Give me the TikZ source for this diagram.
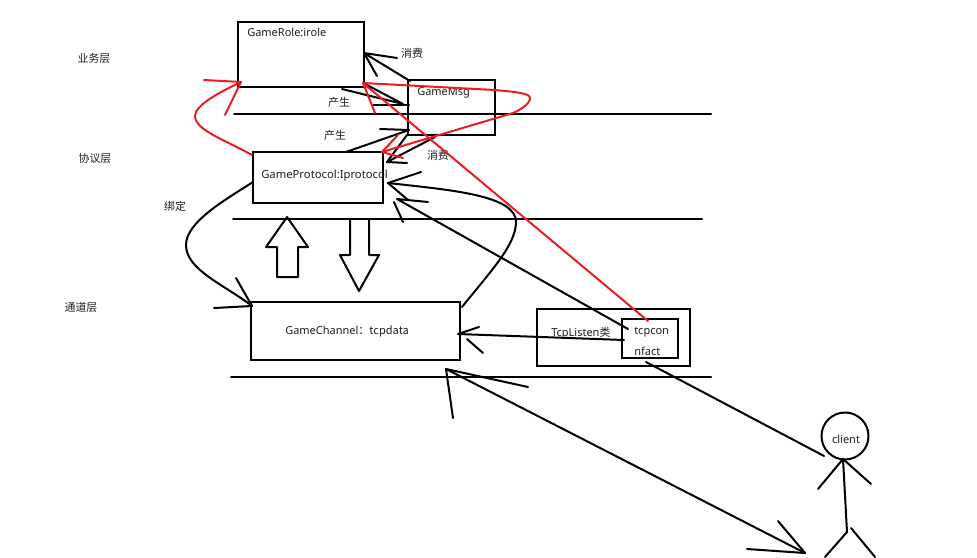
\documentclass[tikz,border=0pt]{standalone}
\usepackage{fontspec}
\setmainfont{Noto Sans}
\newfontfamily\cjk{Noto Sans CJK SC}
\definecolor{paintred}{RGB}{237,28,36}
\definecolor{ink}{RGB}{30,30,30}
\tikzset{
  box/.style={draw=black,line width=1.5pt,inner sep=0pt,minimum width=#1},
  lbl/.style={inner sep=0pt,text=ink,font=\fontsize{8.25}{9}\selectfont},
  cn/.style={inner sep=0pt,text=ink,font=\cjk\fontsize{8.2}{9}\selectfont},
  ink line/.style={draw=black,line width=1.5pt,line cap=round,line join=round},
  red line/.style={draw=paintred,line width=1.5pt,line cap=round,line join=round}
}
\begin{document}
\begin{tikzpicture}[x=0.75pt,y=-0.75pt]
\useasboundingbox (0,0) rectangle (977,557);
% layer lines
\coordinate (l1a) at (234,114); \coordinate (l1b) at (711,114);
\coordinate (l2a) at (233,219); \coordinate (l2b) at (702,219);
\coordinate (l3a) at (231,377); \coordinate (l3b) at (711,377);
\draw[ink line] (l1a) -- (l1b);
\draw[ink line] (l2a) -- (l2b);
\draw[ink line] (l3a) -- (l3b);
% boxes
\node[box=126*0.75pt,minimum height=48.75pt] (role) at (301,54.5) {};
\node[box=87*0.75pt,minimum height=41.25pt] (msg) at (451.5,107.5) {};
\node[box=130*0.75pt,minimum height=38.25pt] (proto) at (318,177.5) {};
\node[box=209*0.75pt,minimum height=43.5pt] (chan) at (355.5,331) {};
\node[box=153*0.75pt,minimum height=42.75pt] (listen) at (613.5,337.5) {};
\node[box=56*0.75pt,minimum height=29.25pt] (conn) at (650,338.5) {};
\node[draw=black,line width=1.5pt,circle,minimum size=35.25pt,inner sep=0pt] (client) at (845,436) {};
% labels
\node[lbl,anchor=west] (troleL) at (247,32) {GameRole:irole};
\node[lbl,anchor=west] (tmsgL) at (417,93) {GameMsg};
\node[lbl,anchor=west,font=\fontsize{8.45}{9}\selectfont] (tprotoL) at (261,176) {GameProtocol:Iprotocol};
\node[lbl,anchor=west] (tchanL) at (285,331) {GameChannel\cjk{：}tcpdata};
\node[lbl,anchor=west] (tlistenL) at (551,333) {TcpListen\cjk{类}};
\node[lbl,anchor=west] (tconnA) at (634,332) {tcpcon};
\node[lbl,anchor=west] (tconnB) at (634,351) {nfact};
\node[lbl] (tclient) at (846,439) {client};
\node[cn] (tbiz) at (94,58) {业务层};
\node[cn] (tprot) at (95,158) {协议层};
\node[cn] (tbind) at (175,206) {绑定};
\node[cn] (tchn) at (81,307) {通道层};
\node[cn] (tc1) at (412,53) {消费};
\node[cn] (tp1) at (339,102) {产生};
\node[cn] (tp2) at (335,135) {产生};
\node[cn] (tc2) at (438,155) {消费};
% block arrows
\draw[ink line] (277,277) -- (277,247) -- (266,247) -- (287,217) -- (308,247) -- (298,247) -- (298,277) -- cycle;
\draw[ink line] (350,219) -- (350,255) -- (340,255) -- (359,291) -- (379,255) -- (369,255) -- (369,219);
% msg -> role
\coordinate (m1s) at (410,81); \coordinate (m1t) at (364,53);
\draw[ink line] (m1s) -- (m1t) -- (397,58);
\draw[ink line] (m1t) -- (377,76);
% role -> msg
\coordinate (r1s) at (342,89); \coordinate (r1t) at (403,104);
\draw[ink line] (r1s) -- (r1t) -- (365,84);
\draw[ink line] (373,105) -- (409,105);
% protocol -> msg
\coordinate (p1s) at (346,152); \coordinate (p1t) at (409,130);
\draw[ink line] (p1s) -- (p1t) -- (380,129);
% msg -> protocol
\coordinate (m2s) at (435,137); \coordinate (m2t) at (387,162);
\draw[ink line] (m2s) -- (m2t) -- (407,163);
\draw[ink line] (m2t) -- (407,135);
% protocol -> channel (bind)
\coordinate (p2s) at (253,182); \coordinate (c1t) at (252,306);
\draw[ink line] (p2s) .. controls (225,200) and (186,222) .. (186,245)
  .. controls (186,270) and (225,285) .. (c1t);
\draw[ink line] (c1t) -- (236,278);
\draw[ink line] (c1t) -- (214,308);
% channel -> protocol
\coordinate (c2s) at (462,307); \coordinate (p3t) at (388,183);
\draw[ink line] (c2s) .. controls (490,272) and (516,245) .. (516,222)
  .. controls (516,195) and (450,190) .. (p3t);
\draw[ink line] (p3t) -- (421,172);
\draw[ink line] (p3t) -- (408,200);
% tcpconn -> protocol
\coordinate (t1s) at (628,329); \coordinate (p4t) at (397,199);
\draw[ink line] (t1s) -- (p4t) -- (428,202);
\draw[ink line] (394,202) -- (403,222);
% tcpconn -> channel
\coordinate (t2s) at (624,340); \coordinate (c3t) at (458,334);
\draw[ink line] (t2s) -- (c3t) -- (479,327);
\draw[ink line] (467,339) -- (483,353);
% client -> tcpconn
\coordinate (k1s) at (824,456); \coordinate (t3t) at (646,362);
\draw[ink line] (k1s) -- (t3t);
% client <-> channel
\coordinate (k2a) at (805,553); \coordinate (c4t) at (446,369);
\draw[ink line] (k2a) -- (c4t);
\draw[ink line] (k2a) -- (778,521);
\draw[ink line] (k2a) -- (747,549);
\draw[ink line] (c4t) -- (453,418);
\draw[ink line] (c4t) -- (528,387);
% stick figure
\coordinate (neck) at (843,459); \coordinate (hip) at (847,532);
\draw[ink line] (neck) -- (hip);
\draw[ink line] (neck) -- (818,489);
\draw[ink line] (neck) -- (871,484);
\draw[ink line] (hip) -- (825,557);
\draw[ink line] (851,528) -- (875,557);
% red arrows
\coordinate (r2s) at (252,155); \coordinate (r2t) at (241,82);
\draw[red line] (r2s) .. controls (225,140) and (195,130) .. (195,116)
  .. controls (195,105) and (220,92) .. (r2t);
\draw[red line] (r2t) -- (204,80);
\draw[red line] (r2t) -- (225,115);
\coordinate (r3s) at (648,321); \coordinate (r3t) at (363,83);
\draw[red line] (r3s) -- (r3t) -- (375,113);
\coordinate (r4t) at (382,152);
\draw[red line] (r3t) -- (495,90) .. controls (515,92) and (530,93) .. (530,98)
  .. controls (530,104) and (520,110) .. (513,113) -- (r4t);
\draw[red line] (r4t) -- (403,158);
\draw[red line] (r4t) -- (398,135);
\end{tikzpicture}
\end{document}
